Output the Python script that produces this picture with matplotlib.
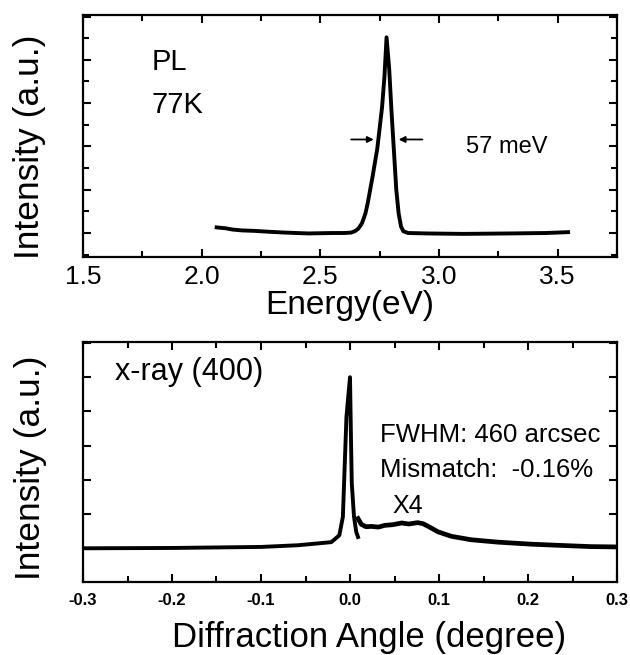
import matplotlib
matplotlib.use("Agg")
import matplotlib.pyplot as plt
from matplotlib.ticker import MultipleLocator

plt.rcParams['font.family'] = ['Liberation Sans', 'DejaVu Sans']

# ---- PL data (top panel) ----
pl_energy = [2.063, 2.08, 2.10, 2.13, 2.17, 2.22, 2.28, 2.35, 2.45, 2.55, 2.60,
             2.63, 2.645, 2.66, 2.675, 2.69, 2.70, 2.72, 2.74, 2.76, 2.77, 2.779,
             2.79, 2.80, 2.81, 2.82, 2.83, 2.84, 2.85, 2.87, 2.95, 3.1, 3.3, 3.45, 3.544]
pl_intensity = [0.13, 0.12, 0.11, 0.08, 0.06, 0.05, 0.03, 0.01, -0.01, 0.0, 0.0,
                0.01, 0.04, 0.10, 0.22, 0.45, 0.70, 1.30, 1.95, 2.90, 3.60, 4.52,
                3.80, 2.80, 1.90, 1.00, 0.45, 0.15, 0.04, 0.0, -0.01, -0.02, -0.01, 0.0, 0.02]

# ---- X-ray data (bottom panel) ----
xr_angle_main = [-0.30, -0.20, -0.10, -0.058, -0.021, -0.012, -0.008, -0.006, -0.004,
                 0.0, 0.001, 0.002, 0.0045, 0.007, 0.009]
xr_int_main = [0.0, 0.01, 0.04, 0.09, 0.18, 0.38, 0.92, 2.38, 3.84,
               5.0, 3.35, 1.90, 0.92, 0.48, 0.33]
xr_angle_tail = [0.009, 0.0127, 0.018, 0.024, 0.032, 0.039, 0.048, 0.058, 0.066, 0.076,
                 0.082, 0.088, 0.099, 0.114, 0.136, 0.166, 0.204, 0.241, 0.270, 0.30]
xr_int_tail = [0.87, 0.70, 0.63, 0.64, 0.62, 0.67, 0.69, 0.74, 0.71, 0.75,
               0.72, 0.64, 0.48, 0.35, 0.25, 0.18, 0.12, 0.08, 0.05, 0.04]

pl_xticks = [1.5, 2.0, 2.5, 3.0, 3.5]
xr_xticks = [-0.3, -0.2, -0.1, 0.0, 0.1, 0.2, 0.3]
xr_xticklabels = ['-0.3', '-0.2', '-0.1', '0.0', '0.1', '0.2', '0.3']

W, H = 630, 655
fig = plt.figure(figsize=(W / 100, H / 100), dpi=100)

def frac(l, t, r, b):
    return [l / W, 1 - b / H, (r - l) / W, (b - t) / H]

ax1 = fig.add_axes(frac(83, 15, 617, 257))
ax2 = fig.add_axes(frac(83, 342, 617, 582))

lw = 2.8
for ax in (ax1, ax2):
    for s in ax.spines.values():
        s.set_linewidth(1.6)
    ax.tick_params(which='both', direction='in', top=True, right=True, width=1.5)
    ax.tick_params(which='major', length=6)
    ax.tick_params(which='minor', length=4)

# top panel
ax1.plot(pl_energy, pl_intensity, color='black', lw=lw, solid_joinstyle='round')
ax1.set_xlim(1.5, 3.75)
ax1.set_ylim(-0.554, 5.035)
ax1.set_xticks(pl_xticks)
ax1.set_xticklabels([f'{v:.1f}' for v in pl_xticks], fontsize=19)
ax1.xaxis.set_minor_locator(MultipleLocator(0.25))
ax1.yaxis.set_major_locator(MultipleLocator(1.0))
ax1.yaxis.set_minor_locator(MultipleLocator(0.5))
ax1.set_yticklabels([])
ax1.tick_params(axis='x', which='major', pad=6)
ax1.set_xlabel('Energy(eV)', fontsize=24, labelpad=0.5)

ax1.text(1.788, 3.76, 'PL', fontsize=21, va='baseline', ha='left')
ax1.text(1.788, 2.77, '77K', fontsize=21, va='baseline', ha='left')
ax1.text(3.112, 1.85, '57 meV', fontsize=17, va='baseline', ha='left')
ax1.annotate('', xy=(2.725, 2.16), xytext=(2.63, 2.16),
             arrowprops=dict(arrowstyle='-|>', color='black', lw=1.3,
                             mutation_scale=9, shrinkA=0, shrinkB=0))
ax1.annotate('', xy=(2.83, 2.16), xytext=(2.93, 2.16),
             arrowprops=dict(arrowstyle='-|>', color='black', lw=1.3,
                             mutation_scale=9, shrinkA=0, shrinkB=0))

# bottom panel
ax2.plot(xr_angle_main, xr_int_main, color='black', lw=lw, solid_joinstyle='round')
ax2.plot(xr_angle_tail, xr_int_tail, color='black', lw=lw + 0.6, solid_joinstyle='round')
ax2.set_xlim(-0.3, 0.3)
ax2.set_ylim(-0.985, 6.03)
ax2.set_xticks(xr_xticks)
ax2.set_xticklabels(xr_xticklabels, fontsize=12, fontweight='bold')
ax2.xaxis.set_minor_locator(MultipleLocator(0.05))
ax2.yaxis.set_major_locator(MultipleLocator(1.0))
ax2.set_yticklabels([])
ax2.tick_params(axis='x', which='major', pad=8)
ax2.set_xlabel('Diffraction Angle (degree)', fontsize=25, va='center')
ax2.xaxis.set_label_coords(0.536, (582 - 637) / 240)

ax2.text(-0.264, 4.91, 'x-ray (400)', fontsize=22, va='baseline', ha='left')
ax2.text(0.0334, 3.11, 'FWHM: 460 arcsec', fontsize=18.5, va='baseline', ha='left')
ax2.text(0.0334, 2.08, 'Mismatch:  -0.16%', fontsize=18.5, va='baseline', ha='left')
ax2.text(0.048, 1.02, 'X4', fontsize=18, va='baseline', ha='left')

fig.text(30 / W, 1 - 147 / H, 'Intensity (a.u.)', rotation=90, fontsize=25.5,
         ha='center', va='center')
fig.text(31 / W, 1 - 468 / H, 'Intensity (a.u.)', rotation=90, fontsize=25.5,
         ha='center', va='center')

fig.savefig('out.png', dpi=100)
